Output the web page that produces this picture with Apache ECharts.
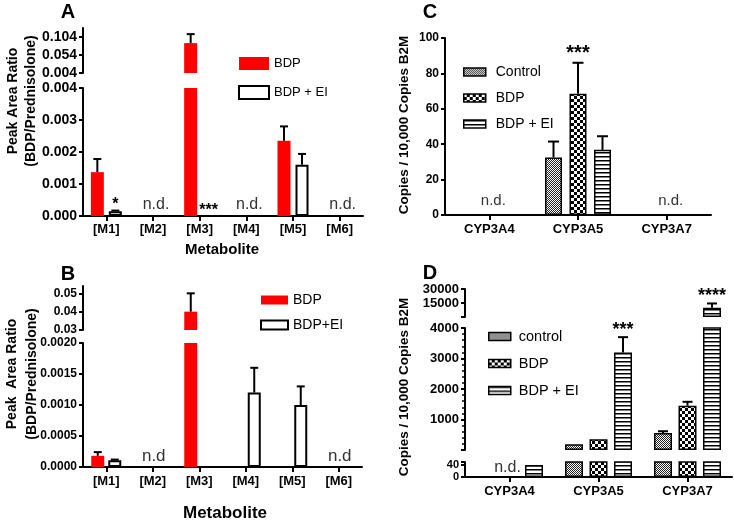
<!DOCTYPE html>
<html><head><meta charset="utf-8">
<script src="https://cdn.jsdelivr.net/npm/echarts@6/dist/echarts.min.js"></script>
<style>
html,body{margin:0;padding:0;background:#fff;}
#wrap{position:relative;width:734px;height:522px;overflow:hidden;}
.p{position:absolute;width:367px;height:261px;}
</style></head><body>
<div id="wrap">
<div class="p" id="pa" style="left:0;top:0"></div>
<div class="p" id="pb" style="left:0;top:261px"></div>
<div class="p" id="pc" style="left:367px;top:0"></div>
<div class="p" id="pd" style="left:367px;top:261px"></div>
</div>
<script>
// ---------------- DATA ----------------
const metabolites = ['[M1]', '[M2]', '[M3]', '[M4]', '[M5]', '[M6]'];
// Panel A
const A_bdp      = [0.00137, null, 0.087, null, 0.00235, null];
const A_bdpErr   = [0.00178, null, 0.112, null, 0.0028, null];
const A_ei       = [0.00015, null, null, null, 0.0016, null];
const A_eiErr    = [0.00017, null, null, null, 0.00194, null];
const A_eiSig    = ['*', '', '***', '', '', ''];
const A_nd       = ['', 'n.d.', '', 'n.d.', '', 'n.d.'];
const A_upperTicks = [0.004, 0.054, 0.104];
// Panel B
const B_bdp      = [0.00018, null, 0.04, null, null, null];
const B_bdpErr   = [0.00024, null, 0.05, null, null, null];
const B_ei       = [0.00011, null, null, 0.0012, 0.001, null];
const B_eiErr    = [0.00012, null, null, 0.0016, 0.0013, null];
const B_nd       = ['', 'n.d', '', '', '', 'n.d'];
const B_upperTicks = [0.03, 0.04, 0.05];
// Panel C
const genes = ['CYP3A4', 'CYP3A5', 'CYP3A7'];
const C_control    = [null, 32.5, null];
const C_controlErr = [null, 41.5, null];
const C_bdp        = [null, 68.5, null];
const C_bdpErr     = [null, 86, null];
const C_bdpSig     = ['', '***', ''];
const C_ei         = [null, 36.8, null];
const C_eiErr      = [null, 44.5, null];
const C_nd         = ['n.d.', '', 'n.d.'];
// Panel D
const D_control    = [null, 190, 560];
const D_controlErr = [null, null, 615];
const D_bdp        = [null, 350, 1450];
const D_bdpErr     = [null, null, 1580];
const D_ei         = [40, 3200, 10000];
const D_eiErr      = [null, 3700, 14500];
const D_eiSig      = ['', '***', '****'];
const D_nd         = ['n.d.', '', ''];
const D_topTicks   = [15000, 30000];
const D_midTicks   = [1000, 2000, 3000, 4000];
const D_lowTicks   = [0, 40];

// ---------------- STYLE HELPERS ----------------
const FONT = "'Liberation Sans', Arial, Helvetica, sans-serif";
const AX = {color: '#000', width: 2};

function pattern(kind) {
  const c = document.createElement('canvas');
  let ctx;
  if (kind === 'fine') {
    c.width = 2; c.height = 2; ctx = c.getContext('2d');
    ctx.fillStyle = '#fff'; ctx.fillRect(0, 0, 2, 2);
    ctx.fillStyle = '#222'; ctx.fillRect(0, 0, 1, 1); ctx.fillRect(1, 1, 1, 1);
  } else if (kind === 'checker') {
    c.width = 6; c.height = 6; ctx = c.getContext('2d');
    ctx.fillStyle = '#000'; ctx.fillRect(0, 0, 6, 6);
    ctx.fillStyle = '#fff'; ctx.fillRect(0, 0, 3, 3); ctx.fillRect(3, 3, 3, 3);
  } else {
    c.width = 4; c.height = 4; ctx = c.getContext('2d');
    ctx.fillStyle = '#fff'; ctx.fillRect(0, 0, 4, 4);
    ctx.fillStyle = '#000'; ctx.fillRect(0, 0, 4, 1.5);
  }
  return {image: c, repeat: 'repeat'};
}

function txt(text, x, y, size, opts) {
  opts = opts || {};
  return {
    type: 'text', x: x, y: y, rotation: opts.rot ? Math.PI / 2 : 0, silent: true,
    style: {text: text, align: 'center', verticalAlign: 'middle',
      font: (opts.normal ? '' : 'bold ') + size + 'px ' + FONT, fill: '#000'}
  };
}

function buildOption(P) {
  const grid = [], xAxis = [], yAxis = [], series = [];
  const n = P.groups.length;
  const step = P.barWidth + P.gapPx;
  const nSeg = P.segments.length;
  P.segments.forEach((seg, si) => {
    const isBottom = si === nSeg - 1;
    const lowerMax = isBottom ? -Infinity : P.segments[si + 1].max;
    const effMin = isBottom ? seg.min : Math.max(seg.min, lowerMax);
    grid.push({left: P.left, top: seg.top, width: P.width, height: seg.height, outerBoundsMode: 'none'});
    xAxis.push({
      type: 'category', gridIndex: si, data: P.categories, show: isBottom,
      axisLine: {show: isBottom, lineStyle: AX},
      axisTick: {show: isBottom, alignWithLabel: true, length: 5, lineStyle: AX},
      axisLabel: {show: isBottom, interval: 0, margin: P.xLabelMargin, fontSize: P.xLabelSize,
        fontWeight: 'bold', color: '#000', fontFamily: FONT},
      splitLine: {show: false}
    });
    const tick = {show: true, length: 4, lineStyle: AX};
    if (seg.ticks) tick.customValues = seg.ticks;
    const lab = {show: true, formatter: seg.fmt, margin: P.yLabelMargin, fontSize: seg.labelSize || P.yLabelSize,
      fontWeight: 'bold', color: '#000', fontFamily: FONT, hideOverlap: false,
      showMinLabel: true, showMaxLabel: true};
    if (seg.labels) lab.customValues = seg.labels;
    const ya = {
      type: 'value', gridIndex: si, min: seg.min, max: seg.max,
      axisLine: {show: true, lineStyle: AX}, axisTick: tick, axisLabel: lab,
      splitLine: {show: false},
      minorTick: seg.minor ? {show: true, splitNumber: seg.minor, length: 3, lineStyle: {color: '#000', width: 1.5}} : {show: false}
    };
    if (seg.interval) ya.interval = seg.interval;
    yAxis.push(ya);
    P.groups.forEach((g, gi) => {
      series.push({
        type: 'bar', name: g.name, xAxisIndex: si, yAxisIndex: si,
        data: g.values.map(v => (v != null && v > lowerMax) ? v : null),
        barWidth: P.barWidth, barGap: (P.gapPx / P.barWidth * 100) + '%',
        itemStyle: g.style, emphasis: {disabled: true}, silent: true, z: 2
      });
      const off = (gi - (n - 1) / 2) * step;
      series.push({
        type: 'custom', xAxisIndex: si, yAxisIndex: si, clip: false, silent: true, z: 5,
        data: P.categories.map((c, i) => [i, 0]),
        renderItem: function (params, api) {
          const i = params.dataIndex;
          const v = g.values[i], e = g.errs ? g.errs[i] : null, s = g.sig ? g.sig[i] : '';
          const base = v == null ? 0 : v;
          const top = e == null ? base : e;
          const children = [];
          const x = api.coord([i, seg.min])[0] + off;
          if (e != null && e > effMin && base < seg.max) {
            const lo = Math.max(base, seg.min), hi = Math.min(e, seg.max);
            const y1 = api.coord([i, lo])[1], y2 = api.coord([i, hi])[1];
            children.push({type: 'line', shape: {x1: x, y1: y1, x2: x, y2: y2}, style: {stroke: '#000', lineWidth: 2}});
            if (e <= seg.max) {
              children.push({type: 'line', shape: {x1: x - P.capW / 2, y1: y2, x2: x + P.capW / 2, y2: y2}, style: {stroke: '#000', lineWidth: 2}});
            }
          }
          if (s && top <= seg.max && (top > effMin || isBottom)) {
            const yc = api.coord([i, Math.max(top, seg.min)])[1];
            children.push({type: 'text', style: {text: s, x: x, y: yc - P.starDy + 0.21 * P.starSize,
              align: 'center', verticalAlign: 'middle', font: 'bold ' + P.starSize + 'px ' + FONT, fill: '#000'}});
          }
          return {type: 'group', children: children};
        }
      });
    });
  });
  // n.d. annotations on the bottom segment
  const bseg = P.segments[nSeg - 1];
  series.push({
    type: 'custom', xAxisIndex: nSeg - 1, yAxisIndex: nSeg - 1, clip: false, silent: true, z: 6,
    data: P.categories.map((c, i) => [i, 0]),
    renderItem: function (params, api) {
      const t = P.nd[params.dataIndex];
      if (!t) return null;
      const p = api.coord([params.dataIndex, bseg.min]);
      return {type: 'text', style: {text: t, x: p[0] + P.ndDx, y: p[1] - P.ndDy, align: 'center',
        verticalAlign: 'bottom', font: P.ndSize + 'px ' + FONT, fill: '#333'}};
    }
  });
  return {
    animation: false,
    grid: grid, xAxis: xAxis, yAxis: yAxis, series: series,
    legend: Object.assign({
      orient: 'vertical', icon: 'rect', selectedMode: false, padding: 0,
      data: P.groups.map(g => ({name: g.name, itemStyle: g.legendStyle})),
      textStyle: {fontFamily: FONT, fontSize: P.legend.fontSize, color: '#000', padding: [0, 0, 0, P.legend.textPad || 0]}
    }, P.legend.pos),
    graphic: P.graphic
  };
}

const RED = {color: '#ff0000'};
const WHITE = {color: '#fff', borderColor: '#000', borderWidth: 2};
const PAT = k => ({color: pattern(k), borderColor: '#000', borderWidth: 1.5});
const PATLEG = {borderColor: '#000', borderWidth: 1.5};

// ---------------- PANEL A ----------------
const optA = buildOption({
  categories: metabolites, left: 83, width: 280,
  segments: [
    {top: 28, height: 45, min: 0.004, max: 0.129, ticks: A_upperTicks, labels: A_upperTicks, fmt: v => v.toFixed(3)},
    {top: 88, height: 128, min: 0, max: 0.004, interval: 0.001, fmt: v => v.toFixed(3)}
  ],
  groups: [
    {name: 'BDP', values: A_bdp, errs: A_bdpErr, style: RED},
    {name: 'BDP + EI', values: A_ei, errs: A_eiErr, sig: A_eiSig, style: WHITE, legendStyle: {borderColor: '#000', borderWidth: 2}}
  ],
  barWidth: 13, gapPx: 5, capW: 8, starSize: 16, starDy: 9,
  nd: A_nd, ndSize: 16, ndDx: 3, ndDy: 3,
  xLabelSize: 13, xLabelMargin: 7, yLabelSize: 14, yLabelMargin: 6,
  legend: {fontSize: 13, textPad: 0, pos: {left: 238, top: 57, itemWidth: 30, itemHeight: 13, itemGap: 15}},
  graphic: [
    txt('A', 68, 12, 20),
    txt('Peak Area Ratio', 13, 101, 14, {rot: true}),
    txt('(BDP/Prednisolone)', 31, 101, 14, {rot: true}),
    txt('Metabolite', 222, 250, 15)
  ]
});

// ---------------- PANEL B ----------------
const optB = buildOption({
  categories: metabolites, left: 83, width: 279,
  segments: [
    {top: 25, height: 44, min: 0.03, max: 0.054, ticks: B_upperTicks, labels: B_upperTicks, fmt: v => v.toFixed(2)},
    {top: 82, height: 124, min: 0, max: 0.002, interval: 0.0005, fmt: v => v.toFixed(4)}
  ],
  groups: [
    {name: 'BDP', values: B_bdp, errs: B_bdpErr, style: RED},
    {name: 'BDP+EI', values: B_ei, errs: B_eiErr, style: WHITE, legendStyle: {borderColor: '#000', borderWidth: 2}}
  ],
  barWidth: 13, gapPx: 4, capW: 8, starSize: 16, starDy: 9,
  nd: B_nd, ndSize: 17, ndDx: 1, ndDy: 2,
  xLabelSize: 13, xLabelMargin: 8, yLabelSize: 12, yLabelMargin: 6,
  legend: {fontSize: 14, pos: {left: 260, top: 32, itemWidth: 27, itemHeight: 9, itemGap: 11}},
  graphic: [
    txt('B', 68, 13, 20),
    txt('Peak  Area Ratio', 12, 113, 14, {rot: true}),
    txt('(BDP/Prednisolone)', 32, 113, 14, {rot: true}),
    txt('Metabolite', 225, 252, 17)
  ]
});

// ---------------- PANEL C ----------------
const optC = buildOption({
  categories: genes, left: 78, width: 266,
  segments: [
    {top: 38, height: 177, min: 0, max: 100, interval: 20, fmt: v => String(v)}
  ],
  groups: [
    {name: 'Control', values: C_control, errs: C_controlErr, style: PAT('fine'), legendStyle: PATLEG},
    {name: 'BDP', values: C_bdp, errs: C_bdpErr, sig: C_bdpSig, style: PAT('checker'), legendStyle: PATLEG},
    {name: 'BDP + EI', values: C_ei, errs: C_eiErr, style: PAT('stripes'), legendStyle: PATLEG}
  ],
  barWidth: 17, gapPx: 7.5, capW: 11, starSize: 20, starDy: 13,
  nd: C_nd, ndSize: 15, ndDx: 4, ndDy: 7,
  xLabelSize: 13, xLabelMargin: 8, yLabelSize: 12, yLabelMargin: 6,
  legend: {fontSize: 14, textPad: 5, pos: {left: 96, top: 65, itemWidth: 22, itemHeight: 8, itemGap: 12}},
  graphic: [
    txt('C', 63, 12, 20),
    txt('Copies / 10,000 Copies B2M', 37, 125, 13.5, {rot: true})
  ]
});

// ---------------- PANEL D ----------------
const optD = buildOption({
  categories: genes, left: 98, width: 267,
  segments: [
    {top: 28, height: 28, min: 0, max: 30000, ticks: [0].concat(D_topTicks), labels: D_topTicks, fmt: v => String(v)},
    {top: 67, height: 122, min: 0, max: 4000, interval: 1000, labels: D_midTicks, minor: 5, fmt: v => String(v)},
    {top: 201, height: 15, min: 0, max: 50, ticks: D_lowTicks.concat([50]), labels: D_lowTicks, labelSize: 11, fmt: v => String(v)}
  ],
  groups: [
    {name: 'control', values: D_control, errs: D_controlErr, style: PAT('fine'), legendStyle: PATLEG},
    {name: 'BDP', values: D_bdp, errs: D_bdpErr, style: PAT('checker'), legendStyle: PATLEG},
    {name: 'BDP + EI', values: D_ei, errs: D_eiErr, sig: D_eiSig, style: PAT('stripes'), legendStyle: PATLEG}
  ],
  barWidth: 18, gapPx: 6.5, capW: 10, starSize: 18, starDy: 11,
  nd: D_nd, ndSize: 16, ndDx: -2, ndDy: 1,
  xLabelSize: 13, xLabelMargin: 8, yLabelSize: 13, yLabelMargin: 6,
  legend: {fontSize: 14.5, textPad: 3, pos: {left: 121, top: 68, itemWidth: 22, itemHeight: 8, itemGap: 12}},
  graphic: [
    txt('D', 63, 12, 20),
    txt('Copies / 10,000 Copies B2M', 37, 126, 13.5, {rot: true})
  ]
});

[['pa', optA], ['pb', optB], ['pc', optC], ['pd', optD]].forEach(([id, opt]) => {
  const ch = echarts.init(document.getElementById(id), null, {renderer: 'canvas'});
  ch.setOption(opt);
});
</script>
</body></html>
